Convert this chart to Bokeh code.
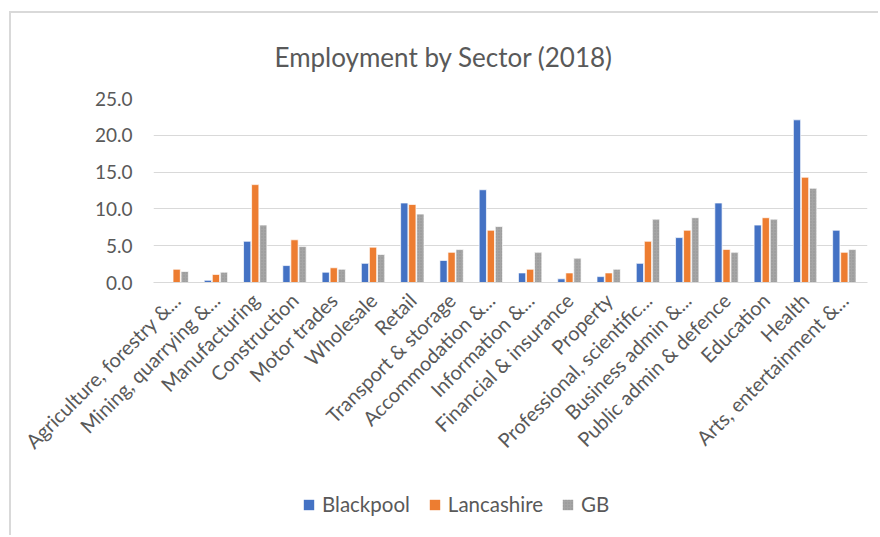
import math
from bokeh.plotting import figure
from bokeh.layouts import column
from bokeh.models import (FactorRange, Legend, LegendItem, ColumnDataSource, Range1d,
                          NumeralTickFormatter, FixedTicker)
from bokeh.transform import dodge
from bokeh.embed import file_html
from bokeh.resources import INLINE

categories = [
    "Agriculture, forestry &...", "Mining, quarrying &...", "Manufacturing",
    "Construction", "Motor trades", "Wholesale", "Retail", "Transport & storage",
    "Accommodation &...", "Information &...", "Financial & insurance", "Property",
    "Professional, scientific...", "Business admin &...", "Public admin & defence",
    "Education", "Health", "Arts, entertainment &...",
]
blackpool = [0.0, 0.3, 5.6, 2.3, 1.4, 2.6, 10.8, 3.0, 12.6, 1.3, 0.5, 0.8, 2.6, 6.1, 10.8, 7.8, 22.1, 7.1]
lancashire = [1.8, 1.1, 13.3, 5.8, 2.0, 4.8, 10.6, 4.1, 7.1, 1.8, 1.3, 1.3, 5.6, 7.1, 4.5, 8.8, 14.3, 4.1]
gb = [1.5, 1.4, 7.8, 4.9, 1.8, 3.8, 9.3, 4.5, 7.6, 4.1, 3.3, 1.8, 8.6, 8.8, 4.1, 8.6, 12.8, 4.5]
series_names = ["Blackpool", "Lancashire", "GB"]
series_colors = ["#4472C4", "#ED7D31", "#A5A5A5"]
y_ticks = [0, 5, 10, 15, 20, 25]
title_text = "Employment by Sector (2018)"

FONT = "Lato"
TXT = "#595959"
BORDER = "2px solid #d9d9d9"

src = ColumnDataSource(dict(cat=categories, bp=blackpool, lc=lancashire, gb=gb))

p = figure(
    x_range=FactorRange(factors=categories, range_padding=0.09, range_padding_units="absolute"),
    y_range=(0, 25), width=869, height=477, output_backend="svg", toolbar_location=None,
    min_border_left=142, min_border_right=13, min_border_top=83, min_border_bottom=208,
    title=title_text,
)
p.margin = (11, 0, 0, 9)
p.styles = {"border-left": BORDER, "border-top": BORDER}
p.outline_line_color = None
p.background_fill_color = "white"
p.border_fill_color = "white"

p.title.align = "left"
p.title.offset = 121
p.title.standoff = 51
p.title.text_font = FONT
p.title.text_font_size = "26px"
p.title.text_font_style = "normal"
p.title.text_color = TXT

bar_kw = dict(width=0.185, source=src, line_color="white", line_width=0.7)
p.vbar(x=dodge("cat", -0.205, range=p.x_range), top="bp", fill_color=series_colors[0], **bar_kw)
p.vbar(x=dodge("cat", 0.0, range=p.x_range), top="lc", fill_color=series_colors[1], **bar_kw)
p.vbar(x=dodge("cat", 0.205, range=p.x_range), top="gb", fill_color=series_colors[2],
       hatch_pattern="dot", hatch_color="#8c8c8c", hatch_scale=3, hatch_alpha=0.7, **bar_kw)

p.xgrid.grid_line_color = None
p.ygrid.grid_line_color = "#d9d9d9"
p.ygrid.grid_line_width = 1
p.yaxis.ticker = FixedTicker(ticks=y_ticks)
p.yaxis.formatter = NumeralTickFormatter(format="0.0")
p.yaxis.axis_line_color = None
p.yaxis.major_tick_line_color = None
p.yaxis.minor_tick_line_color = None
p.yaxis.major_label_standoff = 15
p.yaxis.major_label_text_font = FONT
p.yaxis.major_label_text_font_size = "19px"
p.yaxis.major_label_text_color = TXT

p.xaxis.axis_line_color = "#d9d9d9"
p.xaxis.major_tick_line_color = None
p.xaxis.minor_tick_line_color = None
p.xaxis.major_label_orientation = math.pi / 4
p.xaxis.major_label_standoff = 8
p.xaxis.major_label_text_font = FONT
p.xaxis.major_label_text_font_size = "20px"
p.xaxis.major_label_text_color = TXT

# Legend strip below the chart (legend proxies sit outside the strip's visible range)
lf = figure(width=869, height=47, output_backend="svg", toolbar_location=None,
            x_range=Range1d(0, 1), y_range=Range1d(0, 1),
            min_border=0, min_border_left=0, min_border_right=0,
            min_border_top=0, min_border_bottom=0)
lf.margin = (0, 0, 0, 9)
lf.styles = {"border-left": BORDER}
lf.axis.visible = False
lf.grid.visible = False
lf.outline_line_color = None
lf.background_fill_color = "white"
lf.border_fill_color = "white"
proxy = ColumnDataSource(dict(l=[-5.0], r=[-4.0], b=[0.0], t=[0.0]))
quad_kw = dict(left="l", right="r", bottom="b", top="t", source=proxy, line_color=None)
lr1 = lf.quad(fill_color=series_colors[0], **quad_kw)
lr2 = lf.quad(fill_color=series_colors[1], **quad_kw)
lr3 = lf.quad(fill_color=series_colors[2], hatch_pattern="dot", hatch_color="#8c8c8c",
              hatch_scale=3, hatch_alpha=0.7, **quad_kw)
legend = Legend(
    items=[LegendItem(label=series_names[0], renderers=[lr1]),
           LegendItem(label=series_names[1], renderers=[lr2]),
           LegendItem(label=series_names[2], renderers=[lr3])],
    location=(149, 19), orientation="horizontal",
    border_line_color=None, background_fill_alpha=0,
    glyph_width=13, glyph_height=13, label_standoff=7, spacing=18,
    padding=0, margin=0,
    label_text_font=FONT, label_text_font_size="20.5px", label_text_color=TXT,
)
lf.add_layout(legend, "center")

layout = column(p, lf, spacing=0)
open("out.html", "w").write(file_html(layout, INLINE))
